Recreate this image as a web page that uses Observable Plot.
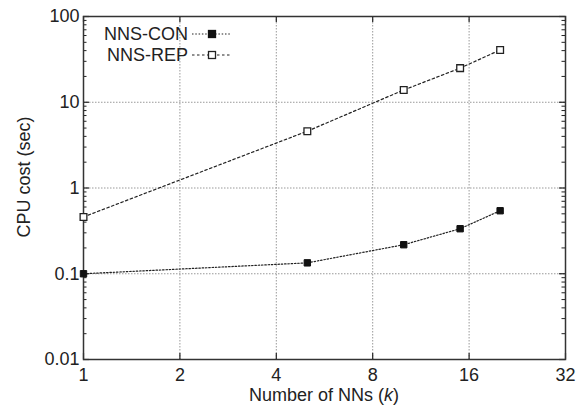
<!DOCTYPE html>
<html><head><meta charset="utf-8">
<script src="https://cdn.jsdelivr.net/npm/d3@7"></script>
<script src="https://cdn.jsdelivr.net/npm/@observablehq/plot@0.6"></script>
<style>body{margin:0;background:#fff} svg{display:block}</style>
</head><body><div id="chart"></div>
<script>
const kValues = [1, 5, 10, 15, 20];
const nnsCon = [0.1, 0.134, 0.218, 0.335, 0.543];
const nnsRep = [0.46, 4.6, 13.9, 25, 40.7];
const seriesNames = ["NNS-CON", "NNS-REP"];
const xTicks = [1, 2, 4, 8, 16, 32];
const xTickLabels = ["1", "2", "4", "8", "16", "32"];
const yTicks = [0.01, 0.1, 1, 10, 100];
const yTickLabels = ["0.01", "0.1", "1", "10", "100"];
const xTitle = "Number of NNs (";
const xTitleVar = "k";
const yTitle = "CPU cost (sec)";

const yMinor = d3.scaleLog().domain([0.01, 100]).ticks().filter(d => !yTicks.includes(d));
const conData = kValues.map((k, i) => ({k, cost: nnsCon[i]}));
const repData = kValues.map((k, i) => ({k, cost: nnsRep[i]}));

const font = "Liberation Sans, Helvetica, Arial, sans-serif";
const ink = "#222";
const W = 579, H = 412, mL = 83, mR = 14, mT = 16, mB = 53;
const pw = W - mL - mR, ph = H - mT - mB;

const plot = Plot.plot({
  width: W, height: H,
  marginLeft: mL, marginRight: mR, marginTop: mT, marginBottom: mB,
  style: {fontFamily: font, fontSize: "18px", color: ink, background: "#fff"},
  x: {type: "log", base: 2, domain: [1, 32]},
  y: {type: "log", domain: [0.01, 100]},
  marks: [
    Plot.gridX(xTicks, {stroke: "#999", strokeOpacity: 1, strokeDasharray: "1.5,1.5"}),
    Plot.gridY(yTicks, {stroke: "#999", strokeOpacity: 1, strokeDasharray: "1.5,1.5"}),
    // inward ticks on the frame
    Plot.tickX(xTicks, {x: d => d, insetTop: ph - 6, stroke: ink, strokeWidth: 1.2}),
    Plot.tickX(xTicks, {x: d => d, insetBottom: ph - 6, stroke: ink, strokeWidth: 1.2}),
    Plot.tickY(yTicks, {y: d => d, insetRight: pw - 6, stroke: ink, strokeWidth: 1.2}),
    Plot.tickY(yTicks, {y: d => d, insetLeft: pw - 6, stroke: ink, strokeWidth: 1.2}),
    Plot.tickY(yMinor, {y: d => d, insetRight: pw - 3.5, stroke: ink, strokeWidth: 1}),
    Plot.tickY(yMinor, {y: d => d, insetLeft: pw - 3.5, stroke: ink, strokeWidth: 1}),
    Plot.axisX(xTicks, {anchor: "bottom", tickSize: 0, tickPadding: 9, label: null, fill: ink,
      tickFormat: d => xTickLabels[xTicks.indexOf(d)]}),
    Plot.axisY(yTicks, {anchor: "left", tickSize: 0, tickPadding: 4, label: null, fill: ink,
      tickFormat: d => yTickLabels[yTicks.indexOf(d)]}),
    Plot.frame({stroke: "#333", strokeWidth: 1.5}),
    Plot.line(conData, {x: "k", y: "cost", stroke: ink, strokeWidth: 1.2, strokeDasharray: "1.5,1.8"}),
    Plot.line(repData, {x: "k", y: "cost", stroke: ink, strokeWidth: 1.2, strokeDasharray: "2.5,2.5"}),
    Plot.dot(conData, {x: "k", y: "cost", symbol: "square", r: 3.6, fill: "#111", stroke: "#111", strokeWidth: 1}),
    Plot.dot(repData, {x: "k", y: "cost", symbol: "square", r: 3.8, fill: "#fff", stroke: "#222", strokeWidth: 1.3})
  ]
});
document.getElementById("chart").appendChild(plot);

const svg = d3.select(plot);
// axis titles
const xt = svg.append("text").attr("x", 324).attr("y", 401).attr("text-anchor", "middle")
  .attr("font-family", font).attr("font-size", 18).attr("fill", ink);
xt.append("tspan").text(xTitle);
xt.append("tspan").attr("font-style", "italic").text(xTitleVar);
xt.append("tspan").text(")");
svg.append("text").attr("transform", "translate(30,177) rotate(-90)").attr("text-anchor", "middle")
  .attr("font-family", font).attr("font-size", 18).attr("fill", ink).text(yTitle);

// legend
const leg = svg.append("g").attr("font-family", font).attr("font-size", 18).attr("fill", ink);
const legRows = [
  {name: seriesNames[0], y: 34, dash: "1.5,1.8", fill: "#111", stroke: "#111"},
  {name: seriesNames[1], y: 55, dash: "2.5,2.5", fill: "#fff", stroke: "#222"}
];
legRows.forEach(r => {
  leg.append("text").attr("x", 188).attr("y", r.y).attr("dy", "0.35em").attr("text-anchor", "end").text(r.name);
  leg.append("line").attr("x1", 192).attr("x2", 231).attr("y1", r.y).attr("y2", r.y)
    .attr("stroke", ink).attr("stroke-width", 1.2).attr("stroke-dasharray", r.dash);
  leg.append("rect").attr("x", 208.5).attr("y", r.y - 3.5).attr("width", 7).attr("height", 7)
    .attr("fill", r.fill).attr("stroke", r.stroke).attr("stroke-width", 1.3);
});
</script></body></html>
